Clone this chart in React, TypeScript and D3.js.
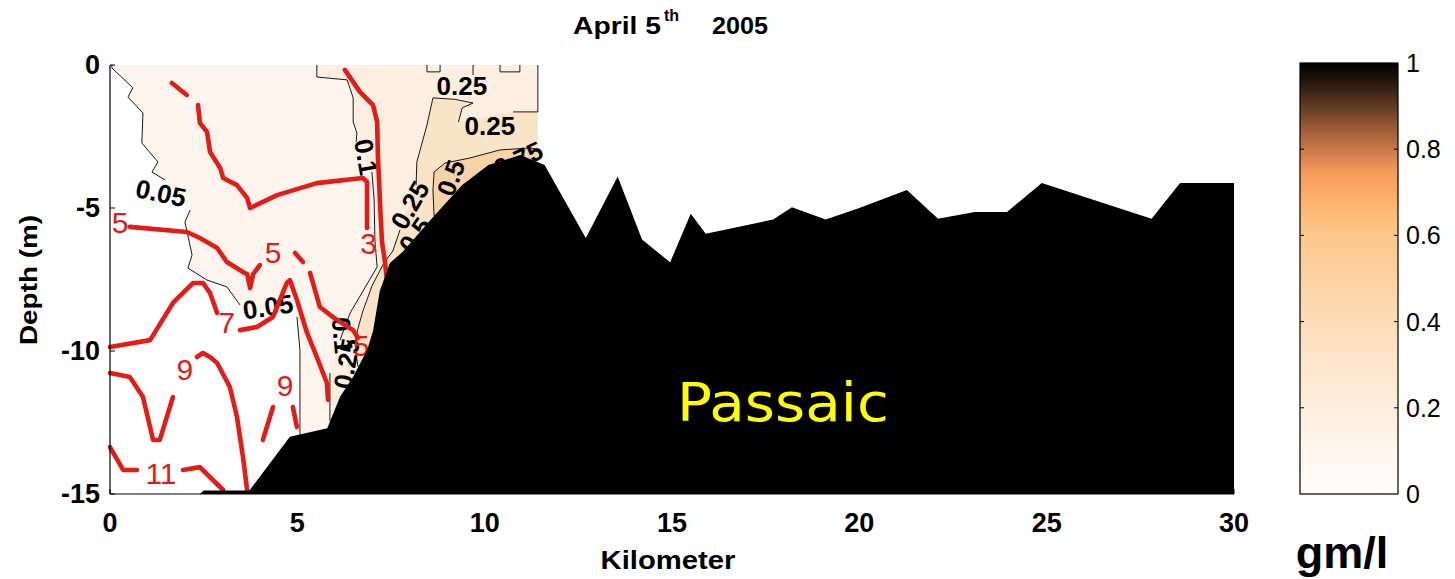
import React from "react";
import * as d3 from "d3";

type P = [number, number];

// ---- axes / ticks ----
const xTicks = [0, 5, 10, 15, 20, 25, 30];
const yTicks = [0, -5, -10, -15];
const cbTicks = [0, 0.2, 0.4, 0.6, 0.8, 1];
const cbTickLabels = ["0", "0.2", "0.4", "0.6", "0.8", "1"];

// right edge of the sampled section (km)
const DATA_EDGE_KM = 11.42;

// ---- river bottom profile (km, depth m) ----
const bathymetry: P[] = [
  [2.4, -15], [2.5, -14.88], [3.72, -14.88], [4.8, -13.0], [5.8, -12.7], [6.14, -11.6],
  [6.49, -10.9], [6.86, -9.97], [7.02, -9.3], [7.2, -7.9], [7.47, -6.92], [7.8, -6.55],
  [8.6, -5.35], [9.4, -4.2], [10.1, -3.5], [10.95, -3.15], [11.6, -3.5], [12.7, -6.05],
  [13.55, -3.9], [14.2, -6.1], [14.95, -6.9], [15.5, -5.2], [15.9, -5.9], [17.7, -5.4],
  [18.2, -4.97], [19.1, -5.4], [20.0, -5.0], [21.27, -4.37], [22.1, -5.38], [23.08, -5.14],
  [23.94, -5.14], [24.87, -4.13], [26.69, -4.9], [27.8, -5.38], [28.56, -4.13], [30, -4.13],
];

// ---- concentration contours (gm/l), segments broken at labels ----
const c005: P[][] = [
  [[0.05, 0], [0.05, -0.1], [0.61, -0.8], [0.48, -1.12], [0.88, -1.68], [0.85, -2.73], [1.28, -3.39], [1.12, -3.74], [1.47, -4.02]],
  [[2.14, -5.07], [2.0, -5.49], [2.19, -6.64], [2.08, -7.1], [2.59, -7.52], [3.12, -7.76], [3.47, -8.39]],
  [[4.99, -8.81], [5.07, -9.97], [5.07, -12.94]],
];
const c01: P[][] = [
  [[5.52, 0], [5.52, -0.42], [6.33, -0.52], [6.49, -1.15], [6.49, -1.99], [6.59, -2.38], [6.57, -2.69]],
  [[6.99, -3.74], [7.05, -4.72], [7.07, -6.12], [7.13, -7.06], [6.41, -8.67], [6.14, -9.62]],
  [[5.87, -10.77], [5.87, -12.45]],
];
const c025: P[][] = [
  [[DATA_EDGE_KM, 0], [DATA_EDGE_KM, -1.64], [10.76, -1.64]],
  [[9.3, -2.0], [9.4, -1.5], [9.69, -1.33], [9.2, -1.2], [8.62, -1.15], [8.46, -2.1], [8.19, -3.39], [8.17, -4.2]],
  [[7.74, -5.77], [7.55, -6.5], [7.3, -6.95], [7.0, -7.7], [6.75, -8.6], [6.6, -9.3], [6.55, -10.0], [6.62, -10.55]],
];
const c025Top: P[][] = [
  [[8.46, 0], [8.46, -0.24], [8.81, -0.24], [8.81, 0]],
  [[9.69, 0], [9.69, -0.35]],
  [[10.41, 0], [10.41, -0.24], [10.94, -0.24], [10.94, 0]],
];
const c05: P[] = [
  [8.65, -5.28], [8.62, -4.37], [8.65, -3.74], [8.94, -3.43], [9.61, -3.25], [10.41, -2.97], [11.21, -2.9], [DATA_EDGE_KM, -2.95],
];

// labels for concentration contours: [km, depth, text, rotation]
const concLabels: [number, number, string, number][] = [
  [1.36, -4.48, "0.05", 12],
  [4.22, -8.46, "0.05", -8],
  [9.39, -0.73, "0.25", 0],
  [10.14, -2.13, "0.25", 0],
  [6.83, -3.22, "0.1", 80],
  [8.01, -4.9, "0.25", -60],
  [8.15, -5.95, "0.5", -55],
  [9.1, -3.95, "0.5", -70],
  [10.9, -3.3, "0.75", -25],
  [6.2, -9.45, "0.1", 85],
  [6.32, -10.45, "0.25", -80],
];

// ---- salinity contours (red) ----
const s1: P[] = [[1.65, -0.63], [2.05, -1.05]];
const s3a: P[] = [
  [2.35, -1.4], [2.4, -2.03], [2.59, -2.34], [2.67, -3.04], [2.94, -3.6], [3.02, -3.95], [3.39, -4.2],
  [3.66, -4.65], [3.74, -5.0], [4.46, -4.55], [5.52, -4.13], [6.75, -3.95], [6.86, -4.09], [6.86, -5.7],
];
const s3b: P[] = [
  [6.27, -0.17], [6.67, -0.94], [7.02, -1.4], [7.13, -1.99], [7.15, -3.15], [7.21, -4.9], [7.26, -6.19], [7.34, -6.89], [7.38, -7.4],
];
const s5: P[][] = [
  [[0.53, -5.66], [2.05, -5.84], [2.4, -6.05], [2.86, -6.4], [3.12, -6.89], [3.55, -7.24], [3.66, -7.31], [3.74, -7.8], [3.82, -7.31], [4.0, -7.0]],
  [[4.94, -6.57], [5.15, -6.89]],
  [[5.34, -7.27], [5.6, -8.46], [6.06, -8.92], [6.49, -9.27], [6.62, -9.55]],
];
const s7: P[][] = [
  [[0, -9.86], [1.07, -9.62], [1.68, -8.32], [2.22, -7.62], [2.48, -7.62], [2.67, -7.97], [2.86, -8.67]],
  [[3.47, -9.27], [3.92, -9.16], [4.35, -8.81], [4.72, -7.62], [4.8, -7.52], [4.99, -8.22], [5.26, -9.37], [5.52, -10.21], [5.79, -11.12], [5.82, -11.71]],
];
const s9a: P[][] = [
  [[0, -10.77], [0.53, -10.91], [0.88, -11.61], [1.15, -13.11], [1.33, -13.11], [1.68, -11.61]],
  [[2.32, -10.21], [2.48, -10.07], [2.67, -10.21], [2.86, -10.42], [3.2, -11.26], [3.39, -12.31], [3.55, -13.71], [3.66, -14.86]],
];
const s9b: P[][] = [
  [[4.08, -13.11], [4.35, -11.96]],
  [[4.88, -11.96], [4.99, -12.66]],
];
const s11: P[][] = [
  [[0, -13.36], [0.35, -14.16], [0.72, -14.16]],
  [[1.95, -14.16], [2.4, -14.06], [2.67, -14.41], [3.02, -14.86]],
];
const salLabels: [number, number, string][] = [
  [0.27, -5.49, "5"],
  [4.35, -6.54, "5"],
  [6.7, -9.8, "5"],
  [6.9, -6.25, "3"],
  [3.12, -8.99, "7"],
  [2.0, -10.66, "9"],
  [4.67, -11.19, "9"],
  [1.36, -14.27, "11"],
];

// colour ramp of the colour bar (value, colour)
const rampStops: [number, string][] = [
  [0, "#fffdfa"], [0.1, "#fff6ec"], [0.2, "#feeedd"], [0.3, "#fde6cc"], [0.4, "#fddcb8"],
  [0.5, "#fdd2a2"], [0.6, "#fdc68a"], [0.65, "#fdbc78"], [0.7, "#fcaa68"], [0.75, "#f4985c"],
  [0.8, "#c87848"], [0.85, "#9a5a36"], [0.9, "#603a22"], [0.95, "#2c1a10"], [1, "#000000"],
];

const FONT = "'Liberation Sans', Arial, sans-serif";
const RED = "#e31c18";

export default function App() {
  const x = d3.scaleLinear().domain([0, 30]).range([110, 1234]);
  const y = d3.scaleLinear().domain([-15, 0]).range([494, 65]);
  const cb = d3.scaleLinear().domain([0, 1]).range([494, 63]);
  const line = d3.line<P>().x((d) => x(d[0])).y((d) => y(d[1]));
  const poly = (pts: P[]) => (line(pts) || "") + "Z";

  const terrainAt = (km: number) => {
    if (km <= bathymetry[0][0]) return -15;
    for (let i = 1; i < bathymetry.length; i++) {
      const [k1, d1] = bathymetry[i];
      const [k0, d0] = bathymetry[i - 1];
      if (km <= k1) return d0 + ((km - k0) / (k1 - k0)) * (d1 - d0);
    }
    return bathymetry[bathymetry.length - 1][1];
  };
  const terrainBetween = (a: number, b: number): P[] => {
    const lo = Math.min(a, b), hi = Math.max(a, b);
    const inner = bathymetry.filter((p) => p[0] > lo && p[0] < hi);
    const pts: P[] = [[lo, terrainAt(lo)], ...inner, [hi, terrainAt(hi)]];
    return a > b ? pts.reverse() : pts;
  };

  const E = DATA_EDGE_KM;
  const baseRegion: P[] = [[0, 0], [E, 0], ...terrainBetween(E, 0), [0, -15]];
  const c005Flat = c005.flat();
  const whiteRegion: P[] = [[0, 0], ...c005Flat, ...terrainBetween(c005Flat[c005Flat.length - 1][0], 0)];
  const c01Flat = c01.flat();
  const c01Region: P[] = [...c01Flat, ...terrainBetween(c01Flat[c01Flat.length - 1][0], E), [E, 0]];
  const c025Flat = c025.flat();
  const c025Region: P[] = [...c025Flat, ...terrainBetween(c025Flat[c025Flat.length - 1][0], E)];
  const c05Region: P[] = [...c05, ...terrainBetween(E, c05[0][0])];
  const terrainPoly: P[] = [[bathymetry[0][0], -15], ...bathymetry, [30, -15]];

  const blackLines = [...c005, ...c01, ...c025, ...c025Top, c05];
  const redLines = [s1, s3a, s3b, ...s5, ...s7, ...s9a, ...s9b, ...s11];

  return (
    <svg width={1455} height={579} style={{ position: "absolute", left: 0, top: 0, background: "#fff" }} fontFamily={FONT}>
      <defs>
        <linearGradient id="ramp" x1="0" y1="1" x2="0" y2="0">
          {rampStops.map(([v, c], i) => (
            <stop key={i} offset={v} stopColor={c} />
          ))}
        </linearGradient>
      </defs>

      {/* filled concentration bands */}
      <path d={poly(baseRegion)} fill="#fdf5ed" />
      <path d={poly(whiteRegion)} fill="#ffffff" />
      <path d={poly(c01Region)} fill="#fcefe1" />
      <path d={poly(c025Region)} fill="#fae4c8" />
      <path d={poly(c05Region)} fill="#f8d3a8" />

      {/* concentration contour lines */}
      {blackLines.map((seg, i) => (
        <path key={"b" + i} d={line(seg) || ""} fill="none" stroke="#000" strokeWidth={0.9} />
      ))}
      {concLabels.map(([k, d, t, r], i) => (
        <text key={"cl" + i} transform={`translate(${x(k)},${y(d)}) rotate(${r})`} textAnchor="middle"
          dominantBaseline="central" fontSize={26} fontWeight="bold" fill="#000">{t}</text>
      ))}

      {/* salinity contours */}
      {redLines.map((seg, i) => (
        <path key={"r" + i} d={line(seg) || ""} fill="none" stroke={RED} strokeWidth={4.6}
          strokeLinecap="round" strokeLinejoin="round" />
      ))}
      {salLabels.map(([k, d, t], i) => (
        <text key={"sl" + i} x={x(k)} y={y(d)} textAnchor="middle" dominantBaseline="central"
          fontSize={30} fill={RED}>{t}</text>
      ))}

      {/* river bottom */}
      <path d={poly(terrainPoly)} fill="#000" />
      <text x={x(17.96)} y={y(-12.45)} textAnchor="middle" fontSize={54} fill="#ffff00"
        fontFamily="'DejaVu Sans', sans-serif" textLength={212} lengthAdjust="spacingAndGlyphs">Passaic</text>

      {/* axes */}
      <line x1={x(0)} x2={x(0)} y1={y(0)} y2={y(-15)} stroke="#000" strokeWidth={1.2} />
      <line x1={x(0)} x2={x(30)} y1={y(-15)} y2={y(-15)} stroke="#000" strokeWidth={1.2} />
      {yTicks.map((t) => (
        <g key={"yt" + t}>
          <line x1={x(0)} x2={x(0) + 5} y1={y(t)} y2={y(t)} stroke="#000" />
          <text x={100} y={y(t)} textAnchor="end" dominantBaseline="central" fontSize={27} fontWeight="bold">{t}</text>
        </g>
      ))}
      {xTicks.map((t) => (
        <g key={"xt" + t}>
          <line x1={x(t)} x2={x(t)} y1={y(-15)} y2={y(-15) - 5} stroke="#000" />
          <text x={x(t)} y={532} textAnchor="middle" fontSize={27} fontWeight="bold">{t}</text>
        </g>
      ))}
      <text x={668} y={569} textAnchor="middle" fontSize={25} fontWeight="bold" textLength={135}
        lengthAdjust="spacingAndGlyphs">Kilometer</text>
      <text transform={`translate(37,280) rotate(-90)`} textAnchor="middle" fontSize={24} fontWeight="bold"
        textLength={130} lengthAdjust="spacingAndGlyphs">Depth (m)</text>

      {/* title */}
      <text x={573} y={34} fontSize={24} fontWeight="bold" textLength={88} lengthAdjust="spacingAndGlyphs">April 5</text>
      <text x={664} y={21} fontSize={16} fontWeight="bold">th</text>
      <text x={712} y={34} fontSize={24} fontWeight="bold" textLength={56} lengthAdjust="spacingAndGlyphs">2005</text>

      {/* colour bar */}
      <rect x={1300} y={cb(1)} width={98} height={cb(0) - cb(1)} fill="url(#ramp)" stroke="#000" strokeWidth={1.2} />
      {cbTicks.map((t, i) => (
        <g key={"cb" + i}>
          {t > 0 && t < 1 && (
            <>
              <line x1={1300} x2={1304} y1={cb(t)} y2={cb(t)} stroke="#000" />
              <line x1={1394} x2={1398} y1={cb(t)} y2={cb(t)} stroke="#000" />
            </>
          )}
          <text x={1406} y={cb(t)} dominantBaseline="central" fontSize={25}>{cbTickLabels[i]}</text>
        </g>
      ))}
      <text x={1342} y={568} textAnchor="middle" fontSize={45} fontWeight="bold">gm/l</text>
    </svg>
  );
}
